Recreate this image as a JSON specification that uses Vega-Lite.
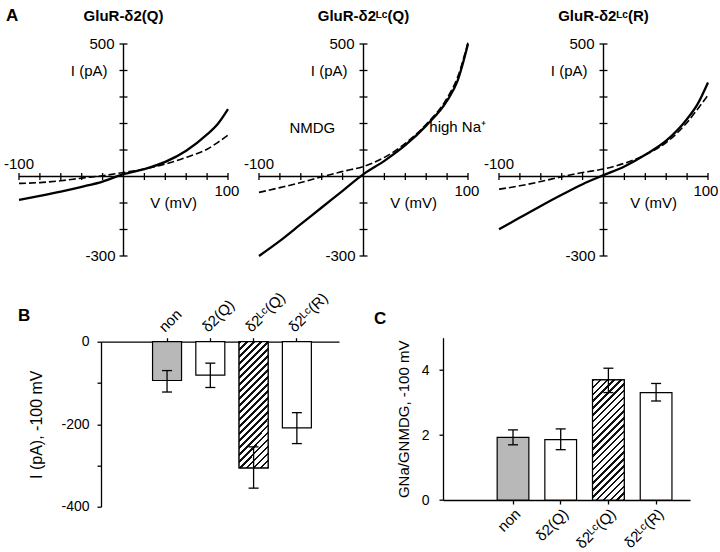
{
"$schema": "https://vega.github.io/schema/vega-lite/v6.json",
"padding": {"left": 3, "top": 7, "right": 5, "bottom": 5},
"config": {
  "view": {"stroke": null},
  "font": "Liberation Sans",
  "text": {"font": "Liberation Sans", "fontSize": 15, "color": "#000"},
  "axis": {"grid": false, "domainColor": "#000", "tickColor": "#000", "labelColor": "#000", "titleColor": "#000", "labelFont": "Liberation Sans", "titleFont": "Liberation Sans", "labelFontSize": 14, "titleFontSize": 15, "titleFontWeight": "normal", "domainWidth": 1.3, "tickWidth": 1.3}
},
"datasets": {
  "curves": [
    {"p":1,"c":"Na","V":-100,"I":-88},{"p":1,"c":"Na","V":-80,"I":-73},{"p":1,"c":"Na","V":-60,"I":-57},{"p":1,"c":"Na","V":-40,"I":-39},{"p":1,"c":"Na","V":-20,"I":-19},{"p":1,"c":"Na","V":0,"I":9},{"p":1,"c":"Na","V":20,"I":28},{"p":1,"c":"Na","V":40,"I":55},{"p":1,"c":"Na","V":60,"I":97},{"p":1,"c":"Na","V":80,"I":159},{"p":1,"c":"Na","V":90,"I":197},{"p":1,"c":"Na","V":100,"I":254},
    {"p":1,"c":"NMDG","V":-100,"I":-26},{"p":1,"c":"NMDG","V":-80,"I":-23},{"p":1,"c":"NMDG","V":-60,"I":-16},{"p":1,"c":"NMDG","V":-40,"I":-6},{"p":1,"c":"NMDG","V":-20,"I":3},{"p":1,"c":"NMDG","V":0,"I":15},{"p":1,"c":"NMDG","V":20,"I":28},{"p":1,"c":"NMDG","V":40,"I":47},{"p":1,"c":"NMDG","V":60,"I":72},{"p":1,"c":"NMDG","V":80,"I":103},{"p":1,"c":"NMDG","V":90,"I":128},{"p":1,"c":"NMDG","V":100,"I":156},
    {"p":2,"c":"Na","V":-100,"I":-300},{"p":2,"c":"Na","V":-80,"I":-243},{"p":2,"c":"Na","V":-60,"I":-180},{"p":2,"c":"Na","V":-40,"I":-117},{"p":2,"c":"Na","V":-20,"I":-54},{"p":2,"c":"Na","V":0,"I":9},{"p":2,"c":"Na","V":20,"I":59},{"p":2,"c":"Na","V":40,"I":118},{"p":2,"c":"Na","V":60,"I":192},{"p":2,"c":"Na","V":80,"I":286},{"p":2,"c":"Na","V":90,"I":361},{"p":2,"c":"Na","V":100,"I":500},
    {"p":2,"c":"NMDG","V":-100,"I":-60},{"p":2,"c":"NMDG","V":-80,"I":-42},{"p":2,"c":"NMDG","V":-60,"I":-23},{"p":2,"c":"NMDG","V":-40,"I":-1},{"p":2,"c":"NMDG","V":-20,"I":19},{"p":2,"c":"NMDG","V":0,"I":38},{"p":2,"c":"NMDG","V":20,"I":72},{"p":2,"c":"NMDG","V":40,"I":125},{"p":2,"c":"NMDG","V":60,"I":197},{"p":2,"c":"NMDG","V":80,"I":296},{"p":2,"c":"NMDG","V":90,"I":374},{"p":2,"c":"NMDG","V":100,"I":506},
    {"p":3,"c":"Na","V":-100,"I":-199},{"p":3,"c":"Na","V":-80,"I":-155},{"p":3,"c":"Na","V":-60,"I":-111},{"p":3,"c":"Na","V":-40,"I":-69},{"p":3,"c":"Na","V":-20,"I":-29},{"p":3,"c":"Na","V":0,"I":5},{"p":3,"c":"Na","V":20,"I":38},{"p":3,"c":"Na","V":40,"I":82},{"p":3,"c":"Na","V":60,"I":135},{"p":3,"c":"Na","V":80,"I":217},{"p":3,"c":"Na","V":90,"I":273},{"p":3,"c":"Na","V":100,"I":355},
    {"p":3,"c":"NMDG","V":-100,"I":-48},{"p":3,"c":"NMDG","V":-80,"I":-35},{"p":3,"c":"NMDG","V":-60,"I":-19},{"p":3,"c":"NMDG","V":-40,"I":-1},{"p":3,"c":"NMDG","V":-20,"I":15},{"p":3,"c":"NMDG","V":0,"I":28},{"p":3,"c":"NMDG","V":20,"I":50},{"p":3,"c":"NMDG","V":40,"I":82},{"p":3,"c":"NMDG","V":60,"I":128},{"p":3,"c":"NMDG","V":80,"I":204},{"p":3,"c":"NMDG","V":90,"I":254},{"p":3,"c":"NMDG","V":100,"I":307}
  ],
  "xt": [{"v":-100},{"v":-80},{"v":-60},{"v":-40},{"v":-20},{"v":20},{"v":40},{"v":60},{"v":80},{"v":100}],
  "yt": [{"v":-300},{"v":-200},{"v":-100},{"v":100},{"v":200},{"v":300},{"v":400},{"v":500}],
  "bb": [
    {"cat":"non","val":-94,"lo":-122,"hi":-70},
    {"cat":"δ2(Q)","val":-81,"lo":-111,"hi":-52},
    {"cat":"δ2ᴸᶜ(Q)","val":-306,"lo":-355,"hi":-255},
    {"cat":"δ2ᴸᶜ(R)","val":-209,"lo":-247,"hi":-172}
  ],
  "cc": [
    {"cat":"non","val":1.93,"lo":1.70,"hi":2.16},
    {"cat":"δ2(Q)","val":1.86,"lo":1.55,"hi":2.19},
    {"cat":"δ2ᴸᶜ(Q)","val":3.70,"lo":3.31,"hi":4.06},
    {"cat":"δ2ᴸᶜ(R)","val":3.31,"lo":3.05,"hi":3.59}
  ]
},
"columns": 3,
"align": "none",
"bounds": "flush",
"spacing": {"row": 81.7, "column": 31},
"concat": [
  {
    "width": 209, "height": 212,
    "layer": [
      {"data": {"name": "curves"}, "transform": [{"filter": "datum.p == 1 && datum.c == 'NMDG'"}], "mark": {"type": "line", "color": "#000", "strokeWidth": 1.6, "strokeDash": [7, 3], "interpolate": "monotone", "clip": false}, "encoding": {"x": {"field": "V", "type": "quantitative", "scale": {"domain": [-100, 100], "nice": false, "zero": false}, "axis": null}, "y": {"field": "I", "type": "quantitative", "scale": {"domain": [-300, 500], "nice": false}, "axis": null}}},
      {"data": {"name": "curves"}, "transform": [{"filter": "datum.p == 1 && datum.c == 'Na'"}], "mark": {"type": "line", "color": "#000", "strokeWidth": 2.3, "interpolate": "monotone", "clip": false}, "encoding": {"x": {"field": "V", "type": "quantitative", "axis": null}, "y": {"field": "I", "type": "quantitative", "axis": null}}},
      {"data": {"values": [{}]}, "mark": {"type": "rule", "color": "#000", "strokeWidth": 1.4}, "encoding": {"x": {"datum": -100, "type": "quantitative", "axis": null}, "x2": {"datum": 100}, "y": {"datum": 0, "type": "quantitative", "axis": null}}},
      {"data": {"values": [{}]}, "mark": {"type": "rule", "color": "#000", "strokeWidth": 1.4}, "encoding": {"x": {"datum": 0, "type": "quantitative", "axis": null}, "y": {"datum": -300, "type": "quantitative", "axis": null}, "y2": {"datum": 500}}},
      {"data": {"name": "xt"}, "mark": {"type": "tick", "orient": "vertical", "color": "#000", "size": 7, "thickness": 1.3, "opacity": 1}, "encoding": {"x": {"field": "v", "type": "quantitative", "axis": null}, "y": {"datum": 0, "type": "quantitative", "axis": null}}},
      {"data": {"name": "yt"}, "mark": {"type": "tick", "orient": "horizontal", "color": "#000", "size": 8, "thickness": 1.3, "opacity": 1}, "encoding": {"x": {"datum": 0, "type": "quantitative", "axis": null}, "y": {"field": "v", "type": "quantitative", "axis": null}}},
      {"data": {"values": [{}]}, "mark": {"type": "text", "align": "right", "baseline": "middle", "dx": -9}, "encoding": {"x": {"datum": 0, "type": "quantitative", "axis": null}, "y": {"datum": 500, "type": "quantitative", "axis": null}, "text": {"value": "500"}}},
      {"data": {"values": [{}]}, "mark": {"type": "text", "align": "right", "baseline": "middle", "dx": -8}, "encoding": {"x": {"datum": 0, "type": "quantitative", "axis": null}, "y": {"datum": -300, "type": "quantitative", "axis": null}, "text": {"value": "-300"}}},
      {"data": {"values": [{}]}, "mark": {"type": "text", "align": "right", "baseline": "middle", "dx": -16}, "encoding": {"x": {"datum": 0, "type": "quantitative", "axis": null}, "y": {"datum": 400, "type": "quantitative", "axis": null}, "text": {"value": "I (pA)"}}},
      {"data": {"values": [{}]}, "mark": {"type": "text", "align": "center", "baseline": "middle", "dy": -13}, "encoding": {"x": {"datum": -100, "type": "quantitative", "axis": null}, "y": {"datum": 0, "type": "quantitative", "axis": null}, "text": {"value": "-100"}}},
      {"data": {"values": [{}]}, "mark": {"type": "text", "align": "center", "baseline": "middle", "dy": 14}, "encoding": {"x": {"datum": 99, "type": "quantitative", "axis": null}, "y": {"datum": 0, "type": "quantitative", "axis": null}, "text": {"value": "100"}}},
      {"data": {"values": [{}]}, "mark": {"type": "text", "align": "center", "baseline": "middle"}, "encoding": {"x": {"datum": 48, "type": "quantitative", "axis": null}, "y": {"datum": -100, "type": "quantitative", "axis": null}, "text": {"value": "V (mV)"}}},
      {"data": {"values": [{}]}, "mark": {"type": "text", "align": "center", "baseline": "alphabetic", "fontWeight": "bold"}, "encoding": {"x": {"datum": 0, "type": "quantitative", "axis": null}, "y": {"datum": 585, "type": "quantitative", "axis": null}, "text": {"value": "GluR-δ2(Q)"}}},
      {"data": {"values": [{}]}, "mark": {"type": "text", "align": "left", "baseline": "alphabetic", "fontWeight": "bold", "fontSize": 17, "dx": -13}, "encoding": {"x": {"datum": -100, "type": "quantitative", "axis": null}, "y": {"datum": 585, "type": "quantitative", "axis": null}, "text": {"value": "A"}}}
    ]
  },
  {
    "width": 209, "height": 212,
    "layer": [
      {"data": {"name": "curves"}, "transform": [{"filter": "datum.p == 2 && datum.c == 'NMDG'"}], "mark": {"type": "line", "color": "#000", "strokeWidth": 1.6, "strokeDash": [7, 3], "interpolate": "monotone", "clip": false}, "encoding": {"x": {"field": "V", "type": "quantitative", "scale": {"domain": [-100, 100], "nice": false, "zero": false}, "axis": null}, "y": {"field": "I", "type": "quantitative", "scale": {"domain": [-300, 500], "nice": false}, "axis": null}}},
      {"data": {"name": "curves"}, "transform": [{"filter": "datum.p == 2 && datum.c == 'Na'"}], "mark": {"type": "line", "color": "#000", "strokeWidth": 2.3, "interpolate": "monotone", "clip": false}, "encoding": {"x": {"field": "V", "type": "quantitative", "axis": null}, "y": {"field": "I", "type": "quantitative", "axis": null}}},
      {"data": {"values": [{}]}, "mark": {"type": "rule", "color": "#000", "strokeWidth": 1.4}, "encoding": {"x": {"datum": -100, "type": "quantitative", "axis": null}, "x2": {"datum": 100}, "y": {"datum": 0, "type": "quantitative", "axis": null}}},
      {"data": {"values": [{}]}, "mark": {"type": "rule", "color": "#000", "strokeWidth": 1.4}, "encoding": {"x": {"datum": 0, "type": "quantitative", "axis": null}, "y": {"datum": -300, "type": "quantitative", "axis": null}, "y2": {"datum": 500}}},
      {"data": {"name": "xt"}, "mark": {"type": "tick", "orient": "vertical", "color": "#000", "size": 7, "thickness": 1.3, "opacity": 1}, "encoding": {"x": {"field": "v", "type": "quantitative", "axis": null}, "y": {"datum": 0, "type": "quantitative", "axis": null}}},
      {"data": {"name": "yt"}, "mark": {"type": "tick", "orient": "horizontal", "color": "#000", "size": 8, "thickness": 1.3, "opacity": 1}, "encoding": {"x": {"datum": 0, "type": "quantitative", "axis": null}, "y": {"field": "v", "type": "quantitative", "axis": null}}},
      {"data": {"values": [{}]}, "mark": {"type": "text", "align": "right", "baseline": "middle", "dx": -9}, "encoding": {"x": {"datum": 0, "type": "quantitative", "axis": null}, "y": {"datum": 500, "type": "quantitative", "axis": null}, "text": {"value": "500"}}},
      {"data": {"values": [{}]}, "mark": {"type": "text", "align": "right", "baseline": "middle", "dx": -8}, "encoding": {"x": {"datum": 0, "type": "quantitative", "axis": null}, "y": {"datum": -300, "type": "quantitative", "axis": null}, "text": {"value": "-300"}}},
      {"data": {"values": [{}]}, "mark": {"type": "text", "align": "right", "baseline": "middle", "dx": -16}, "encoding": {"x": {"datum": 0, "type": "quantitative", "axis": null}, "y": {"datum": 400, "type": "quantitative", "axis": null}, "text": {"value": "I (pA)"}}},
      {"data": {"values": [{}]}, "mark": {"type": "text", "align": "center", "baseline": "middle", "dy": -13}, "encoding": {"x": {"datum": -100, "type": "quantitative", "axis": null}, "y": {"datum": 0, "type": "quantitative", "axis": null}, "text": {"value": "-100"}}},
      {"data": {"values": [{}]}, "mark": {"type": "text", "align": "center", "baseline": "middle", "dy": 14}, "encoding": {"x": {"datum": 99, "type": "quantitative", "axis": null}, "y": {"datum": 0, "type": "quantitative", "axis": null}, "text": {"value": "100"}}},
      {"data": {"values": [{}]}, "mark": {"type": "text", "align": "center", "baseline": "middle"}, "encoding": {"x": {"datum": 48, "type": "quantitative", "axis": null}, "y": {"datum": -100, "type": "quantitative", "axis": null}, "text": {"value": "V (mV)"}}},
      {"data": {"values": [{}]}, "mark": {"type": "text", "align": "center", "baseline": "middle"}, "encoding": {"x": {"datum": -49, "type": "quantitative", "axis": null}, "y": {"datum": 183, "type": "quantitative", "axis": null}, "text": {"value": "NMDG"}}},
      {"data": {"values": [{}]}, "mark": {"type": "text", "align": "left", "baseline": "middle"}, "encoding": {"x": {"datum": 63, "type": "quantitative", "axis": null}, "y": {"datum": 185, "type": "quantitative", "axis": null}, "text": {"value": "high Na⁺"}}},
      {"data": {"values": [{}]}, "mark": {"type": "text", "align": "center", "baseline": "alphabetic", "fontWeight": "bold"}, "encoding": {"x": {"datum": 0, "type": "quantitative", "axis": null}, "y": {"datum": 585, "type": "quantitative", "axis": null}, "text": {"value": "GluR-δ2ᴸᶜ(Q)"}}}
    ]
  },
  {
    "width": 209, "height": 212,
    "layer": [
      {"data": {"name": "curves"}, "transform": [{"filter": "datum.p == 3 && datum.c == 'NMDG'"}], "mark": {"type": "line", "color": "#000", "strokeWidth": 1.6, "strokeDash": [7, 3], "interpolate": "monotone", "clip": false}, "encoding": {"x": {"field": "V", "type": "quantitative", "scale": {"domain": [-100, 100], "nice": false, "zero": false}, "axis": null}, "y": {"field": "I", "type": "quantitative", "scale": {"domain": [-300, 500], "nice": false}, "axis": null}}},
      {"data": {"name": "curves"}, "transform": [{"filter": "datum.p == 3 && datum.c == 'Na'"}], "mark": {"type": "line", "color": "#000", "strokeWidth": 2.3, "interpolate": "monotone", "clip": false}, "encoding": {"x": {"field": "V", "type": "quantitative", "axis": null}, "y": {"field": "I", "type": "quantitative", "axis": null}}},
      {"data": {"values": [{}]}, "mark": {"type": "rule", "color": "#000", "strokeWidth": 1.4}, "encoding": {"x": {"datum": -100, "type": "quantitative", "axis": null}, "x2": {"datum": 100}, "y": {"datum": 0, "type": "quantitative", "axis": null}}},
      {"data": {"values": [{}]}, "mark": {"type": "rule", "color": "#000", "strokeWidth": 1.4}, "encoding": {"x": {"datum": 0, "type": "quantitative", "axis": null}, "y": {"datum": -300, "type": "quantitative", "axis": null}, "y2": {"datum": 500}}},
      {"data": {"name": "xt"}, "mark": {"type": "tick", "orient": "vertical", "color": "#000", "size": 7, "thickness": 1.3, "opacity": 1}, "encoding": {"x": {"field": "v", "type": "quantitative", "axis": null}, "y": {"datum": 0, "type": "quantitative", "axis": null}}},
      {"data": {"name": "yt"}, "mark": {"type": "tick", "orient": "horizontal", "color": "#000", "size": 8, "thickness": 1.3, "opacity": 1}, "encoding": {"x": {"datum": 0, "type": "quantitative", "axis": null}, "y": {"field": "v", "type": "quantitative", "axis": null}}},
      {"data": {"values": [{}]}, "mark": {"type": "text", "align": "right", "baseline": "middle", "dx": -9}, "encoding": {"x": {"datum": 0, "type": "quantitative", "axis": null}, "y": {"datum": 500, "type": "quantitative", "axis": null}, "text": {"value": "500"}}},
      {"data": {"values": [{}]}, "mark": {"type": "text", "align": "right", "baseline": "middle", "dx": -8}, "encoding": {"x": {"datum": 0, "type": "quantitative", "axis": null}, "y": {"datum": -300, "type": "quantitative", "axis": null}, "text": {"value": "-300"}}},
      {"data": {"values": [{}]}, "mark": {"type": "text", "align": "right", "baseline": "middle", "dx": -16}, "encoding": {"x": {"datum": 0, "type": "quantitative", "axis": null}, "y": {"datum": 400, "type": "quantitative", "axis": null}, "text": {"value": "I (pA)"}}},
      {"data": {"values": [{}]}, "mark": {"type": "text", "align": "center", "baseline": "middle", "dy": -13}, "encoding": {"x": {"datum": -100, "type": "quantitative", "axis": null}, "y": {"datum": 0, "type": "quantitative", "axis": null}, "text": {"value": "-100"}}},
      {"data": {"values": [{}]}, "mark": {"type": "text", "align": "center", "baseline": "middle", "dy": 14}, "encoding": {"x": {"datum": 98, "type": "quantitative", "axis": null}, "y": {"datum": 0, "type": "quantitative", "axis": null}, "text": {"value": "100"}}},
      {"data": {"values": [{}]}, "mark": {"type": "text", "align": "center", "baseline": "middle"}, "encoding": {"x": {"datum": 48, "type": "quantitative", "axis": null}, "y": {"datum": -100, "type": "quantitative", "axis": null}, "text": {"value": "V (mV)"}}},
      {"data": {"values": [{}]}, "mark": {"type": "text", "align": "center", "baseline": "alphabetic", "fontWeight": "bold"}, "encoding": {"x": {"datum": 0, "type": "quantitative", "axis": null}, "y": {"datum": 585, "type": "quantitative", "axis": null}, "text": {"value": "GluR-δ2ᴸᶜ(R)"}}}
    ]
  },
  {
    "width": 209, "height": 169,
    "resolve": {"scale": {"x": "independent", "y": "independent"}, "axis": {"x": "independent", "y": "independent"}},
    "layer": [
      {
        "data": {"name": "bb"},
        "encoding": {"x": {"field": "cat", "type": "nominal", "sort": null, "scale": {"range": [82, 320], "paddingInner": 0.33, "paddingOuter": 0.915, "align": 0.651}, "axis": {"orient": "top", "offset": -4, "title": null, "labelAngle": -45, "tickSize": 4, "labelPadding": 3, "labelFontSize": 15}}},
        "layer": [
          {"mark": {"type": "bar", "stroke": "#000", "strokeWidth": 1.2}, "encoding": {"y": {"field": "val", "type": "quantitative", "scale": {"domain": [-400, 0], "nice": false, "range": [169, 4]}, "axis": {"orient": "left", "offset": -82, "title": "I (pA), -100 mV", "values": [-400, -300, -200, -100, 0], "labelExpr": "datum.value % 200 == 0 ? '' + datum.value : ''", "tickSize": 4, "labelPadding": 8, "titlePadding": 16, "titleFontSize": 16}}, "fill": {"field": "cat", "type": "nominal", "sort": null, "scale": {"range": ["#b8b8b8", "#ffffff", "#ffffff", "#ffffff"]}, "legend": null}}},
          {"transform": [{"filter": "datum.cat == 'δ2ᴸᶜ(Q)'"}], "mark": {"type": "bar", "stroke": "#000", "strokeWidth": 1.2, "fill": {"gradient": "linear", "x1": 0, "y1": 0, "x2": 0.269, "y2": 1.168, "stops": [
{"offset":0,"color":"#111"},{"offset":0.016,"color":"#111"},{"offset":0.016,"color":"#fff"},{"offset":0.045,"color":"#fff"},
{"offset":0.045,"color":"#111"},{"offset":0.061,"color":"#111"},{"offset":0.061,"color":"#fff"},{"offset":0.09,"color":"#fff"},
{"offset":0.09,"color":"#111"},{"offset":0.106,"color":"#111"},{"offset":0.106,"color":"#fff"},{"offset":0.135,"color":"#fff"},
{"offset":0.135,"color":"#111"},{"offset":0.151,"color":"#111"},{"offset":0.151,"color":"#fff"},{"offset":0.18,"color":"#fff"},
{"offset":0.18,"color":"#111"},{"offset":0.196,"color":"#111"},{"offset":0.196,"color":"#fff"},{"offset":0.225,"color":"#fff"},
{"offset":0.225,"color":"#111"},{"offset":0.241,"color":"#111"},{"offset":0.241,"color":"#fff"},{"offset":0.27,"color":"#fff"},
{"offset":0.27,"color":"#111"},{"offset":0.286,"color":"#111"},{"offset":0.286,"color":"#fff"},{"offset":0.315,"color":"#fff"},
{"offset":0.315,"color":"#111"},{"offset":0.331,"color":"#111"},{"offset":0.331,"color":"#fff"},{"offset":0.36,"color":"#fff"},
{"offset":0.36,"color":"#111"},{"offset":0.376,"color":"#111"},{"offset":0.376,"color":"#fff"},{"offset":0.405,"color":"#fff"},
{"offset":0.405,"color":"#111"},{"offset":0.421,"color":"#111"},{"offset":0.421,"color":"#fff"},{"offset":0.45,"color":"#fff"},
{"offset":0.45,"color":"#111"},{"offset":0.466,"color":"#111"},{"offset":0.466,"color":"#fff"},{"offset":0.495,"color":"#fff"},
{"offset":0.495,"color":"#111"},{"offset":0.511,"color":"#111"},{"offset":0.511,"color":"#fff"},{"offset":0.54,"color":"#fff"},
{"offset":0.54,"color":"#111"},{"offset":0.556,"color":"#111"},{"offset":0.556,"color":"#fff"},{"offset":0.585,"color":"#fff"},
{"offset":0.585,"color":"#111"},{"offset":0.601,"color":"#111"},{"offset":0.601,"color":"#fff"},{"offset":0.63,"color":"#fff"},
{"offset":0.63,"color":"#111"},{"offset":0.646,"color":"#111"},{"offset":0.646,"color":"#fff"},{"offset":0.675,"color":"#fff"},
{"offset":0.675,"color":"#111"},{"offset":0.691,"color":"#111"},{"offset":0.691,"color":"#fff"},{"offset":0.72,"color":"#fff"},
{"offset":0.72,"color":"#111"},{"offset":0.736,"color":"#111"},{"offset":0.736,"color":"#fff"},{"offset":0.765,"color":"#fff"},
{"offset":0.765,"color":"#111"},{"offset":0.781,"color":"#111"},{"offset":0.781,"color":"#fff"},{"offset":0.81,"color":"#fff"},
{"offset":0.81,"color":"#111"},{"offset":0.826,"color":"#111"},{"offset":0.826,"color":"#fff"},{"offset":0.855,"color":"#fff"},
{"offset":0.855,"color":"#111"},{"offset":0.871,"color":"#111"},{"offset":0.871,"color":"#fff"},{"offset":0.9,"color":"#fff"},
{"offset":0.9,"color":"#111"},{"offset":0.916,"color":"#111"},{"offset":0.916,"color":"#fff"},{"offset":0.945,"color":"#fff"},
{"offset":0.945,"color":"#111"},{"offset":0.961,"color":"#111"},{"offset":0.961,"color":"#fff"},{"offset":0.99,"color":"#fff"},
{"offset":0.99,"color":"#111"},{"offset":1,"color":"#111"}
          ]}}, "encoding": {"y": {"field": "val", "type": "quantitative"}}},
          {"mark": {"type": "rule", "color": "#000", "strokeWidth": 1.3}, "encoding": {"y": {"field": "lo", "type": "quantitative"}, "y2": {"field": "hi"}}},
          {"mark": {"type": "tick", "orient": "horizontal", "color": "#000", "size": 10, "thickness": 1.3, "opacity": 1}, "encoding": {"y": {"field": "lo", "type": "quantitative"}}},
          {"mark": {"type": "tick", "orient": "horizontal", "color": "#000", "size": 10, "thickness": 1.3, "opacity": 1}, "encoding": {"y": {"field": "hi", "type": "quantitative"}}},
          {"data": {"values": [{}]}, "mark": {"type": "text", "align": "left", "baseline": "alphabetic", "fontWeight": "bold", "fontSize": 17, "dx": -149}, "encoding": {"x": {"datum": "non", "type": "nominal"}, "y": {"datum": 51, "type": "quantitative"}, "text": {"value": "B"}}}
        ]
      },
      {
        "data": {"name": "cc"},
        "encoding": {"x": {"field": "cat", "type": "nominal", "sort": null, "scale": {"range": [424, 671], "paddingInner": 0.335, "paddingOuter": 0.757, "align": 0.75}, "axis": {"orient": "bottom", "offset": -6.7, "title": null, "labelAngle": -45, "tickSize": 4, "labelPadding": 2, "labelFontSize": 15}}},
        "layer": [
          {"mark": {"type": "bar", "stroke": "#000", "strokeWidth": 1.2}, "encoding": {"y": {"field": "val", "type": "quantitative", "scale": {"domain": [0, 5], "nice": false, "range": [162.3, 0]}, "axis": {"orient": "left", "offset": -424, "title": "GNa/GNMDG, -100 mV", "values": [0, 1, 2, 3, 4, 5], "labelExpr": "datum.value % 2 == 0 ? '' + datum.value : ''", "tickSize": 4, "labelPadding": 10, "titlePadding": 10, "titleFontSize": 15}}, "fill": {"field": "cat", "type": "nominal", "sort": null, "scale": {"range": ["#b8b8b8", "#ffffff", "#ffffff", "#ffffff"]}, "legend": null}}},
          {"transform": [{"filter": "datum.cat == 'δ2ᴸᶜ(Q)'"}], "mark": {"type": "bar", "stroke": "#000", "strokeWidth": 1.2, "fill": {"gradient": "linear", "x1": 0, "y1": 0, "x2": 0.312, "y2": 1.182, "stops": [
{"offset":0,"color":"#111"},{"offset":0.016,"color":"#111"},{"offset":0.016,"color":"#fff"},{"offset":0.045,"color":"#fff"},
{"offset":0.045,"color":"#111"},{"offset":0.061,"color":"#111"},{"offset":0.061,"color":"#fff"},{"offset":0.09,"color":"#fff"},
{"offset":0.09,"color":"#111"},{"offset":0.106,"color":"#111"},{"offset":0.106,"color":"#fff"},{"offset":0.135,"color":"#fff"},
{"offset":0.135,"color":"#111"},{"offset":0.151,"color":"#111"},{"offset":0.151,"color":"#fff"},{"offset":0.18,"color":"#fff"},
{"offset":0.18,"color":"#111"},{"offset":0.196,"color":"#111"},{"offset":0.196,"color":"#fff"},{"offset":0.225,"color":"#fff"},
{"offset":0.225,"color":"#111"},{"offset":0.241,"color":"#111"},{"offset":0.241,"color":"#fff"},{"offset":0.27,"color":"#fff"},
{"offset":0.27,"color":"#111"},{"offset":0.286,"color":"#111"},{"offset":0.286,"color":"#fff"},{"offset":0.315,"color":"#fff"},
{"offset":0.315,"color":"#111"},{"offset":0.331,"color":"#111"},{"offset":0.331,"color":"#fff"},{"offset":0.36,"color":"#fff"},
{"offset":0.36,"color":"#111"},{"offset":0.376,"color":"#111"},{"offset":0.376,"color":"#fff"},{"offset":0.405,"color":"#fff"},
{"offset":0.405,"color":"#111"},{"offset":0.421,"color":"#111"},{"offset":0.421,"color":"#fff"},{"offset":0.45,"color":"#fff"},
{"offset":0.45,"color":"#111"},{"offset":0.466,"color":"#111"},{"offset":0.466,"color":"#fff"},{"offset":0.495,"color":"#fff"},
{"offset":0.495,"color":"#111"},{"offset":0.511,"color":"#111"},{"offset":0.511,"color":"#fff"},{"offset":0.54,"color":"#fff"},
{"offset":0.54,"color":"#111"},{"offset":0.556,"color":"#111"},{"offset":0.556,"color":"#fff"},{"offset":0.585,"color":"#fff"},
{"offset":0.585,"color":"#111"},{"offset":0.601,"color":"#111"},{"offset":0.601,"color":"#fff"},{"offset":0.63,"color":"#fff"},
{"offset":0.63,"color":"#111"},{"offset":0.646,"color":"#111"},{"offset":0.646,"color":"#fff"},{"offset":0.675,"color":"#fff"},
{"offset":0.675,"color":"#111"},{"offset":0.691,"color":"#111"},{"offset":0.691,"color":"#fff"},{"offset":0.72,"color":"#fff"},
{"offset":0.72,"color":"#111"},{"offset":0.736,"color":"#111"},{"offset":0.736,"color":"#fff"},{"offset":0.765,"color":"#fff"},
{"offset":0.765,"color":"#111"},{"offset":0.781,"color":"#111"},{"offset":0.781,"color":"#fff"},{"offset":0.81,"color":"#fff"},
{"offset":0.81,"color":"#111"},{"offset":0.826,"color":"#111"},{"offset":0.826,"color":"#fff"},{"offset":0.855,"color":"#fff"},
{"offset":0.855,"color":"#111"},{"offset":0.871,"color":"#111"},{"offset":0.871,"color":"#fff"},{"offset":0.9,"color":"#fff"},
{"offset":0.9,"color":"#111"},{"offset":0.916,"color":"#111"},{"offset":0.916,"color":"#fff"},{"offset":0.945,"color":"#fff"},
{"offset":0.945,"color":"#111"},{"offset":0.961,"color":"#111"},{"offset":0.961,"color":"#fff"},{"offset":0.99,"color":"#fff"},
{"offset":0.99,"color":"#111"},{"offset":1,"color":"#111"}
          ]}}, "encoding": {"y": {"field": "val", "type": "quantitative"}}},
          {"mark": {"type": "rule", "color": "#000", "strokeWidth": 1.3}, "encoding": {"y": {"field": "lo", "type": "quantitative"}, "y2": {"field": "hi"}}},
          {"mark": {"type": "tick", "orient": "horizontal", "color": "#000", "size": 10, "thickness": 1.3, "opacity": 1}, "encoding": {"y": {"field": "lo", "type": "quantitative"}}},
          {"mark": {"type": "tick", "orient": "horizontal", "color": "#000", "size": 10, "thickness": 1.3, "opacity": 1}, "encoding": {"y": {"field": "hi", "type": "quantitative"}}},
          {"data": {"values": [{}]}, "mark": {"type": "text", "align": "left", "baseline": "alphabetic", "fontWeight": "bold", "fontSize": 17, "dx": -139}, "encoding": {"x": {"datum": "non", "type": "nominal"}, "y": {"datum": 5.43, "type": "quantitative"}, "text": {"value": "C"}}}
        ]
      }
    ]
  }
]
}
